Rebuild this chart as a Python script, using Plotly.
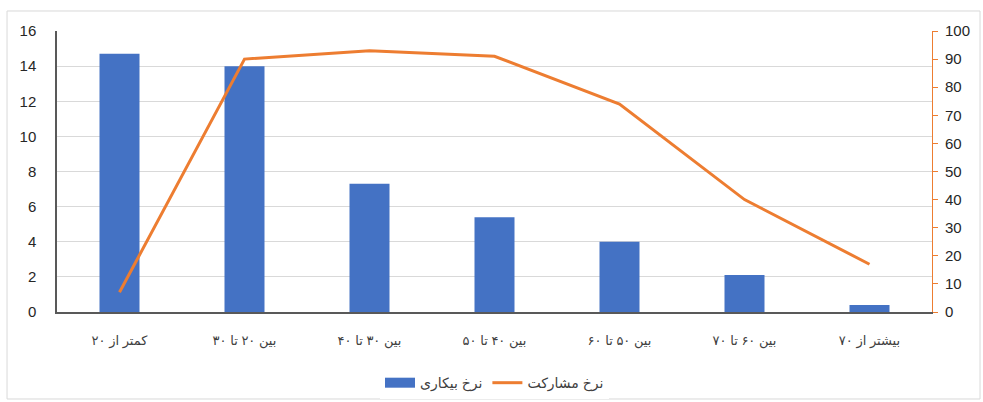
import plotly.graph_objects as go

categories = ["کمتر از ۲۰", "بین ۲۰ تا ۳۰", "بین ۳۰ تا ۴۰", "بین ۴۰ تا ۵۰",
              "بین ۵۰ تا ۶۰", "بین ۶۰ تا ۷۰", "بیشتر از ۷۰"]
unemployment = [14.7, 14.0, 7.3, 5.4, 4.0, 2.1, 0.4]
participation = [7, 90, 93, 91, 74, 40, 17]
left_ticks = [0, 2, 4, 6, 8, 10, 12, 14, 16]
right_ticks = [0, 10, 20, 30, 40, 50, 60, 70, 80, 90, 100]
series_names = ["نرخ بیکاری", "نرخ مشارکت"]

BLUE = "#4472C4"
ORANGE = "#ED7D31"
FONT = "Liberation Sans, DejaVu Sans, sans-serif"

fig = go.Figure()
fig.add_trace(go.Bar(x=categories, y=unemployment, name=series_names[0],
                     marker=dict(color=BLUE, line=dict(width=0)), width=0.32,
                     yaxis="y", showlegend=False, legendgroup="a"))
# legend-only proxy giving a wide rectangular swatch like the reference
fig.add_trace(go.Scatter(x=[categories[0]], y=[None], name=series_names[0],
                         mode="lines", line=dict(color=BLUE, width=11),
                         legendgroup="a", hoverinfo="skip"))
fig.add_trace(go.Scatter(x=categories, y=participation, name=series_names[1],
                         mode="lines", line=dict(color=ORANGE, width=3),
                         yaxis="y2"))

fig.update_layout(
    width=983, height=402,
    margin=dict(l=57, r=51, t=31, b=90, autoexpand=False),
    paper_bgcolor="white", plot_bgcolor="white",
    font=dict(family=FONT, size=13, color="#404040"),
    showlegend=True,
    legend=dict(orientation="h", x=0.5, xanchor="center", y=-0.253, yanchor="middle",
                font=dict(size=14, color="#404040"), traceorder="normal"),
    xaxis=dict(showline=True, linecolor="#595959", linewidth=1.5,
               showgrid=False, ticks="", ticklabelstandoff=16, automargin=False,
               tickfont=dict(size=13, color="#404040")),
    yaxis=dict(range=[0, 16], tickvals=left_ticks, showgrid=True,
               gridcolor="#d9d9d9", gridwidth=1, showline=True,
               linecolor="#595959", linewidth=1.5, ticks="",
               ticklabelstandoff=16, zeroline=False, automargin=False,
               tickfont=dict(size=15, color="#262626")),
    yaxis2=dict(range=[0, 100], tickvals=right_ticks, overlaying="y", side="right",
                showgrid=False, showline=True, linecolor=ORANGE, linewidth=1,
                ticks="outside", ticklen=5, tickcolor=ORANGE, zeroline=False,
                ticklabelstandoff=4, automargin=False,
                tickfont=dict(size=15, color="#262626")),
    bargap=0.68,
)

fig.add_shape(type="rect", xref="paper", yref="paper",
              x0=-0.0571, x1=1.0549, y0=-0.3096, y1=1.0712,
              line=dict(color="#d9d9d9", width=1), layer="below")

fig.write_html("out.html",
               config={"displayModeBar": False},
               post_script="document.body.style.margin='0';"
                           "document.body.style.overflow='hidden';")
